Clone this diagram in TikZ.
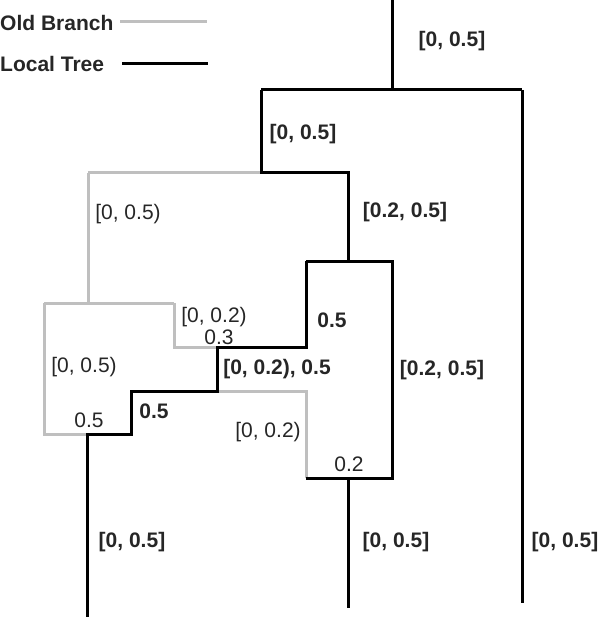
\documentclass[tikz,border=0pt]{standalone}
\usepackage{fontspec}
\setmainfont{Liberation Sans}
\usetikzlibrary{positioning}

\begin{document}
\begin{tikzpicture}[x=1pt, y=-1pt,
  local/.style={line width=3pt, black},
  old/.style={line width=3pt, black!25},
  lbl/.style={font=\fontsize{21}{24}\selectfont, text=black!85, inner sep=0pt, anchor=base},
  blbl/.style={lbl, font=\fontsize{21}{24}\selectfont\bfseries}]

\useasboundingbox (0,0) rectangle (600,617);

% Legend
\node[blbl, anchor=base west] (oldkey) at (0,31) {Old Branch};
\node[blbl, anchor=base west] (localkey) at (0,72) {Local Tree};
\coordinate (oldA) at (120,22);
\coordinate (oldB) at (207,22);
\coordinate (localA) at (122,64);
\coordinate (localB) at (208,64);
\draw[old] (oldA) -- (oldB);
\draw[local] (localA) -- (localB);

% Junctions
\coordinate (top) at (392,0);
\coordinate (root) at (392,90);
\coordinate (rootL) at (261,90);
\coordinate (rootR) at (522,90);
\coordinate (leafR) at (522,603);
\coordinate (split) at (261,173);
\coordinate (stepA) at (348,173);
\coordinate (boxTop) at (348,261);
\coordinate (boxTL) at (306,261);
\coordinate (boxTR) at (392,261);
\coordinate (boxBL) at (306,478);
\coordinate (boxBR) at (392,478);
\coordinate (boxBot) at (348,478);
\coordinate (leafM) at (348,608);
\coordinate (stepB) at (217,347);
\coordinate (stepC) at (131,391);
\coordinate (stepD) at (87,434);
\coordinate (leafL) at (87,617);
\coordinate (oldTop) at (88,173);
\coordinate (oldMid) at (88,303);
\coordinate (oldL) at (44,303);
\coordinate (oldR) at (174,303);
\coordinate (oldLow) at (217,391);

% Old branch
\draw[old] (oldTop) -- (split);
\draw[old] (oldTop) -- (oldMid);
\draw[old] (oldL) -- (oldR);
\draw[old] (oldR) |- (stepB);
\draw[old] (oldL) |- (stepD);
\draw[old] (oldLow) -| (boxBL);

% Local tree
\draw[local] (top) -- (root);
\draw[local] (rootL) -- (rootR);
\draw[local] (rootR) -- (leafR);
\draw[local] (rootL) |- (stepA) -- (boxTop);
\draw[local] (boxTL) -- (boxTR) -- (boxBR) -- (boxBL);
\draw[local] (boxBot) -- (leafM);
\draw[local] (boxTL) |- (stepB) |- (stepC) |- (stepD) -- (leafL);

% Branch labels
\node[blbl] (lRoot) at (452,47) {[0, 0.5]};
\node[blbl] (lLeft) at (303,140) {[0, 0.5]};
\node[blbl] (lMid) at (405,218) {[0.2, 0.5]};
\node[lbl] (lOldTop) at (128,220) {[0, 0.5)};
\node[lbl] (lOldR) at (214,322) {[0, 0.2)};
\node[lbl] (lThree) at (219,344) {0.3};
\node[blbl] (lHalfA) at (332,327) {0.5};
\node[blbl] (lStep) at (277,374) {[0, 0.2), 0.5};
\node[lbl] (lOldL) at (84,372) {[0, 0.5)};
\node[blbl] (lBoxR) at (442,375) {[0.2, 0.5]};
\node[blbl] (lHalfB) at (154,418) {0.5};
\node[lbl] (lHalfC) at (89,427) {0.5};
\node[lbl] (lOldLow) at (268,437) {[0, 0.2)};
\node[lbl] (lTwo) at (349,471) {0.2};
\node[blbl] (lLeafL) at (132,547) {[0, 0.5]};
\node[blbl] (lLeafM) at (396,547) {[0, 0.5]};
\node[blbl] (lLeafR) at (565,547) {[0, 0.5]};

\end{tikzpicture}
\end{document}
